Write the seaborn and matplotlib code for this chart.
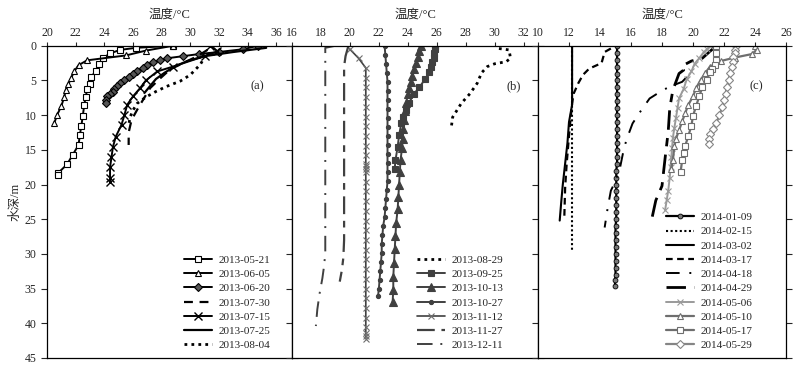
import numpy as np
import pandas as pd
import seaborn as sns
import matplotlib
matplotlib.use("Agg")
import matplotlib.pyplot as plt

sns.set_style("ticks")
plt.rcParams['font.family'] = ['Liberation Serif', 'Noto Sans CJK SC']
plt.rcParams['axes.unicode_minus'] = False

# ---------------- panel (a): 2013 summer profiles ----------------
a_0521_t = [28.8, 26.2, 25.1, 24.4, 23.9, 23.6, 23.4, 23.1, 23.0, 22.8, 22.7, 22.6, 22.5, 22.4, 22.3, 22.2, 21.8, 21.4, 20.8, 20.8]
a_0521_d = [0.0, 0.3, 0.6, 1.1, 1.8, 2.7, 3.6, 4.5, 5.5, 6.3, 7.4, 8.5, 10.1, 11.5, 12.8, 14.3, 15.7, 17.1, 18.3, 18.6]
a_0605_t = [28.8, 26.9, 25.5, 22.8, 22.2, 21.9, 21.7, 21.5, 21.3, 21.2, 21.0, 20.7, 20.5]
a_0605_d = [0.0, 0.7, 1.4, 2.1, 2.8, 3.7, 4.6, 5.5, 6.4, 7.4, 8.7, 10.0, 11.2]
a_0620_t = [34.7, 33.7, 32.0, 30.6, 29.5, 28.4, 27.9, 27.4, 27.0, 26.7, 26.3, 26.0, 25.7, 25.4, 25.1, 24.9, 24.7, 24.6, 24.4, 24.2, 24.1, 24.1]
a_0620_d = [0.0, 0.5, 0.9, 1.2, 1.5, 1.8, 2.1, 2.4, 2.8, 3.2, 3.6, 4.1, 4.5, 4.9, 5.3, 5.8, 6.2, 6.6, 7.0, 7.3, 7.8, 8.3]
a_0730_t = [31.2, 30.5, 29.5, 28.6, 27.9, 27.2, 26.7, 26.3, 25.9, 25.7, 25.7]
a_0730_d = [0.6, 1.5, 2.5, 3.4, 4.7, 6.1, 7.8, 9.2, 10.7, 12.5, 14.3]
a_0715_t = [31.4, 31.9, 31.0, 28.8, 27.7, 26.9, 26.5, 26.0, 25.6, 25.4, 25.2, 24.8, 24.6, 24.5, 24.4, 24.4, 24.4]
a_0715_d = [0.0, 0.8, 1.5, 3.0, 3.7, 5.0, 6.1, 7.3, 8.5, 10.0, 11.4, 13.1, 14.6, 16.1, 17.5, 19.0, 19.7]
a_0725_t = [35.3, 33.0, 31.0, 29.8, 28.9, 28.2, 27.6, 27.2, 26.8]
a_0725_d = [0.3, 0.9, 1.5, 2.2, 3.0, 3.9, 4.8, 5.8, 6.8]
a_0804_t = [31.0, 30.9, 30.7, 30.0, 29.3, 28.3, 27.6, 26.9, 26.3, 26.0, 25.8, 25.7]
a_0804_d = [1.3, 2.0, 2.7, 4.2, 5.1, 5.9, 6.6, 7.4, 8.3, 9.3, 10.3, 11.5]

# ---------------- panel (b): 2013 autumn profiles ----------------
b_0829_t = [30.3, 31.0, 31.1, 30.8, 30.0, 29.5, 29.1, 28.8, 28.3, 27.7, 27.4, 27.1, 27.0]
b_0829_d = [0.4, 0.6, 1.8, 2.3, 2.6, 3.0, 3.9, 5.4, 6.9, 8.3, 9.3, 10.3, 11.9]
b_0925_t = [25.9, 25.9, 25.8, 25.8, 25.7, 25.6, 25.5, 25.2, 24.8, 24.4, 24.1, 23.9, 23.7, 23.55, 23.4, 23.3, 23.15, 23.1]
b_0925_d = [0.0, 0.5, 1.0, 1.7, 2.4, 3.1, 3.8, 4.8, 6.0, 7.0, 8.2, 9.3, 10.3, 11.2, 12.9, 14.6, 16.5, 17.7]
b_1013_t = [24.9, 24.8, 24.7, 24.6, 24.4, 24.3, 24.2, 24.1, 24.0, 23.9, 23.8, 23.75, 23.7, 23.65, 23.6, 23.5,
            23.45, 23.4, 23.35, 23.3, 23.2, 23.15, 23.1, 23.05, 23.0, 23.0, 22.95]
b_1013_d = [0.0, 0.8, 1.6, 2.5, 3.4, 4.3, 5.2, 6.1, 7.0, 8.2, 9.4, 10.7, 12.0, 13.4, 14.8, 16.5,
            18.2, 20.0, 21.8, 23.6, 25.5, 27.4, 29.3, 31.3, 33.3, 35.2, 37.0]
b_1027_t = [22.4, 22.45, 22.5, 22.55, 22.6, 22.6, 22.6, 22.6, 22.6, 22.6, 22.6, 22.6, 22.6, 22.6, 22.6,
            22.6, 22.55, 22.5, 22.45, 22.4, 22.3, 22.25, 22.2, 22.2, 22.15, 22.1, 22.05, 22.0, 21.95]
b_1027_d = [0.0, 1.3, 2.6, 3.9, 5.2, 6.5, 7.8, 9.1, 10.4, 11.7, 13.0, 14.3, 15.6, 16.9, 18.2,
            19.5, 20.8, 22.1, 23.4, 24.7, 26.0, 27.3, 28.6, 29.9, 31.2, 32.5, 33.8, 35.1, 36.0]
b_1112_t = [20.0, 20.6, 21.1, 21.1, 21.1, 21.1, 21.1, 21.1, 21.1, 21.1, 21.1, 21.1, 21.1, 21.1, 21.1, 21.1, 21.1, 21.1,
            21.1, 21.1, 21.1, 21.1, 21.1, 21.1, 21.1, 21.1, 21.1, 21.1, 21.1, 21.1, 21.1, 21.1, 21.1, 21.1, 21.1]
b_1112_d = [0.5, 1.8, 3.2, 4.6, 6.0, 7.4, 8.8, 10.2, 11.6, 13.0, 14.4, 15.8, 17.0, 17.4, 17.8, 18.2, 19.6, 21.0,
            22.4, 23.8, 25.2, 26.6, 28.0, 29.4, 30.8, 32.2, 33.6, 35.0, 36.4, 37.8, 39.2, 40.6, 41.4, 41.8, 42.2]
b_1127_t = [19.9, 19.7, 19.6, 19.6, 19.6, 19.55, 19.45, 19.3]
b_1127_d = [0.0, 1.5, 3.0, 15.0, 28.0, 30.5, 32.3, 34.0]
b_1211_t = [19.0, 18.3, 18.3, 18.3, 18.2, 18.1, 17.9, 17.75, 17.65]
b_1211_d = [0.0, 0.3, 10.0, 30.0, 32.0, 33.5, 35.8, 38.0, 40.4]

# ---------------- panel (c): 2014 winter/spring profiles ----------------
c_0109_t = [15.1, 15.1, 15.1, 15.1, 15.1, 15.1, 15.1, 15.1, 15.1, 15.1, 15.1, 15.1, 15.1, 15.1, 15.1, 15.1, 15.1, 15.1,
            15.05, 15.05, 15.05, 15.05, 15.05, 15.05, 15.05, 15.05, 15.0, 15.0, 15.0, 15.0, 15.0, 15.0, 15.0, 15.0, 14.97, 14.97]
c_0109_d = [0.0, 1.0, 2.0, 3.0, 4.0, 5.0, 6.0, 7.0, 8.0, 9.0, 10.0, 11.0, 12.0, 13.0, 14.0, 15.0, 16.0, 17.0,
            18.0, 19.0, 20.0, 21.0, 22.0, 23.0, 24.0, 25.0, 26.0, 27.0, 28.0, 29.0, 30.0, 31.0, 32.0, 33.0, 33.8, 34.6]
c_0215_t = [12.2, 12.2, 12.2, 12.2]
c_0215_d = [0.0, 10.0, 20.0, 29.8]
c_0302_t = [12.2, 12.2, 12.2, 12.0, 11.9, 11.75, 11.6, 11.5, 11.4]
c_0302_d = [0.0, 5.0, 8.5, 11.0, 14.0, 17.0, 20.0, 22.5, 25.2]
c_0317_t = [14.7, 14.3, 14.1, 13.3, 12.9, 12.6, 12.3, 12.2, 12.1, 12.0, 11.85, 11.75, 11.7]
c_0317_d = [0.4, 0.9, 2.5, 3.3, 4.2, 5.4, 6.9, 8.3, 10.5, 13.0, 17.0, 20.5, 24.5]
c_0418_t = [19.6, 19.3, 18.6, 18.05, 17.2, 16.6, 16.1, 15.7, 15.5, 15.3, 15.0, 14.7, 14.5, 14.3]
c_0418_d = [4.5, 5.2, 5.8, 6.4, 7.6, 9.5, 11.2, 13.6, 15.3, 17.5, 19.5, 20.9, 23.3, 26.2]
c_0429_t = [21.5, 20.6, 19.9, 19.3, 19.4, 19.1, 18.7, 18.5, 18.4, 18.2, 18.0, 17.6, 17.3]
c_0429_d = [0.0, 1.8, 2.2, 2.9, 3.5, 4.0, 6.4, 9.0, 12.4, 16.2, 20.2, 22.3, 25.4]
c_0506_t = [21.1, 20.9, 20.7, 20.4, 20.1, 19.9, 19.6, 19.4, 19.1, 19.0, 18.9, 18.8, 18.7, 18.65, 18.6, 18.55, 18.5, 18.4, 18.3, 18.2]
c_0506_d = [0.0, 0.5, 0.9, 1.8, 2.6, 3.7, 4.8, 6.2, 7.6, 9.0, 10.4, 11.8, 13.3, 14.7, 16.1, 17.5, 19.0, 20.9, 22.3, 23.7]
c_0510_t = [24.0, 24.1, 23.8, 22.7, 21.8, 21.1, 20.8, 20.5, 20.2, 20.0, 19.7, 19.5, 19.3, 19.1, 18.9, 18.8, 18.7, 18.6]
c_0510_d = [0.0, 0.6, 1.2, 1.7, 2.2, 3.0, 3.9, 4.9, 6.1, 7.3, 8.5, 9.7, 10.9, 12.2, 13.4, 14.5, 16.5, 17.7]
c_0517_t = [21.5, 21.5, 21.5, 21.4, 21.2, 21.1, 20.9, 20.6, 20.4, 20.2, 20.0, 19.9, 19.7, 19.5, 19.4, 19.3, 19.2]
c_0517_d = [0.0, 1.0, 2.0, 2.8, 3.3, 3.8, 4.9, 6.0, 7.3, 8.7, 10.1, 11.5, 13.0, 14.4, 15.5, 16.5, 18.2]
c_0529_t = [22.8, 22.7, 22.7, 22.6, 22.55, 22.5, 22.4, 22.3, 22.2, 22.1, 22.0, 21.9, 21.7, 21.5, 21.3, 21.1, 21.05, 21.0]
c_0529_d = [0.0, 0.6, 1.1, 1.6, 2.3, 3.0, 3.9, 4.9, 5.9, 6.9, 7.8, 8.8, 10.0, 11.2, 12.0, 12.7, 13.4, 14.1]

BLK = 'black'
DG = '#404040'
G = '#6e6e6e'
LG = '#9a9a9a'


def draw(ax, t, d, label, color, lw=1.4, ls='-', marker=None, ms=4, mfc=None, mec=None, mew=0.8):
    sns.lineplot(x=t, y=d, sort=False, estimator=None, ax=ax, label=label,
                 color=color, linewidth=lw, linestyle=ls, marker=marker, markersize=ms,
                 markerfacecolor=mfc if mfc is not None else color,
                 markeredgecolor=mec if mec is not None else color,
                 markeredgewidth=mew)


fig = plt.figure(figsize=(8, 3.66), dpi=100)
ax_a = fig.add_axes([0.05875, 0.022, 0.30625, 0.853])
ax_b = fig.add_axes([0.365, 0.022, 0.3075, 0.853])
ax_c = fig.add_axes([0.6725, 0.022, 0.31, 0.853])

# panel a
draw(ax_a, a_0521_t, a_0521_d, '2013-05-21', BLK, marker='s', ms=5, mfc='white', mec=BLK)
draw(ax_a, a_0605_t, a_0605_d, '2013-06-05', BLK, marker='^', ms=5, mfc='white', mec=BLK)
draw(ax_a, a_0620_t, a_0620_d, '2013-06-20', BLK, marker='D', ms=4, mfc='#555555', mec=BLK)
draw(ax_a, a_0730_t, a_0730_d, '2013-07-30', BLK, lw=1.6, ls=(0, (4, 3)))
draw(ax_a, a_0715_t, a_0715_d, '2013-07-15', BLK, marker='x', ms=6, mew=1.0)
draw(ax_a, a_0725_t, a_0725_d, '2013-07-25', BLK, lw=1.6)
draw(ax_a, a_0804_t, a_0804_d, '2013-08-04', BLK, lw=2.0, ls=(0, (1, 1.5)))

# panel b
draw(ax_b, b_0829_t, b_0829_d, '2013-08-29', BLK, lw=2.0, ls=(0, (1, 1.5)))
draw(ax_b, b_0925_t, b_0925_d, '2013-09-25', DG, marker='s', ms=4.5)
draw(ax_b, b_1013_t, b_1013_d, '2013-10-13', DG, marker='^', ms=5.5)
draw(ax_b, b_1027_t, b_1027_d, '2013-10-27', DG, marker='o', ms=3)
draw(ax_b, b_1112_t, b_1112_d, '2013-11-12', DG, lw=1.2, marker='x', ms=5, mec=G)
draw(ax_b, b_1127_t, b_1127_d, '2013-11-27', DG, lw=1.6, ls=(0, (8, 3, 3, 3)))
draw(ax_b, b_1211_t, b_1211_d, '2013-12-11', DG, lw=1.4, ls=(0, (8, 4, 1, 4)))

# panel c
draw(ax_c, c_0109_t, c_0109_d, '2014-01-09', BLK, lw=1.6, marker='o', ms=3.5, mfc='#777777', mec=BLK, mew=0.6)
draw(ax_c, c_0215_t, c_0215_d, '2014-02-15', BLK, lw=1.5, ls=(0, (1, 1.2)))
draw(ax_c, c_0302_t, c_0302_d, '2014-03-02', BLK, lw=1.5)
draw(ax_c, c_0317_t, c_0317_d, '2014-03-17', BLK, lw=1.6, ls=(0, (3, 2)))
draw(ax_c, c_0418_t, c_0418_d, '2014-04-18', BLK, lw=1.4, ls=(0, (7, 5, 1, 5)))
draw(ax_c, c_0429_t, c_0429_d, '2014-04-29', BLK, lw=2.0, ls=(0, (7, 3, 3, 3)))
draw(ax_c, c_0506_t, c_0506_d, '2014-05-06', LG, lw=1.4, marker='x', ms=4)
draw(ax_c, c_0510_t, c_0510_d, '2014-05-10', G, lw=1.6, marker='^', ms=5, mfc='white', mec=G)
draw(ax_c, c_0517_t, c_0517_d, '2014-05-17', G, lw=1.6, marker='s', ms=4.5, mfc='white', mec=G)
draw(ax_c, c_0529_t, c_0529_d, '2014-05-29', '#858585', lw=1.6, marker='D', ms=4, mfc='white', mec='#858585')

panels = [(ax_a, (20, 37.1), np.arange(20, 37, 2), '(a)', 0.86, 0.945),
          (ax_b, (16, 33), np.arange(16, 33, 2), '(b)', 0.90, 0.89),
          (ax_c, (10, 26), np.arange(10, 27, 2), '(c)', 0.88, 0.895)]

for i, (ax, xl, xt, tag, tx, lx) in enumerate(panels):
    ax.set_xlim(*xl)
    ax.set_ylim(45, 0)
    ax.set_xticks(xt)
    ax.set_yticks(np.arange(0, 46, 5))
    ax.xaxis.tick_top()
    ax.tick_params(axis='x', direction='out', length=3, width=0.8, labelsize=8.5, pad=2, top=True, bottom=False)
    ax.tick_params(axis='y', direction='out', length=4, width=0.8, labelsize=8.5,
                   left=True, right=True, labelleft=(i == 0), labelright=False)
    for sp in ax.spines.values():
        sp.set_visible(True)
        sp.set_color('black')
        sp.set_linewidth(0.9)
    ax.set_xlabel('')
    ax.set_ylabel('')
    ax.text(0.5, 1.098, '温度/°C', transform=ax.transAxes, ha='center', va='center', fontsize=9)
    ax.text(tx, 0.87, tag, transform=ax.transAxes, ha='center', va='center', fontsize=9)
    ax.legend(loc='lower right', bbox_to_anchor=(lx, 0.0), frameon=False, fontsize=8,
              handlelength=2.5, handletextpad=0.6, labelspacing=0.4, borderaxespad=0.3)

ax_a.set_ylabel('水深/m', fontsize=9, labelpad=2)

fig.savefig('out.png', dpi=100)
